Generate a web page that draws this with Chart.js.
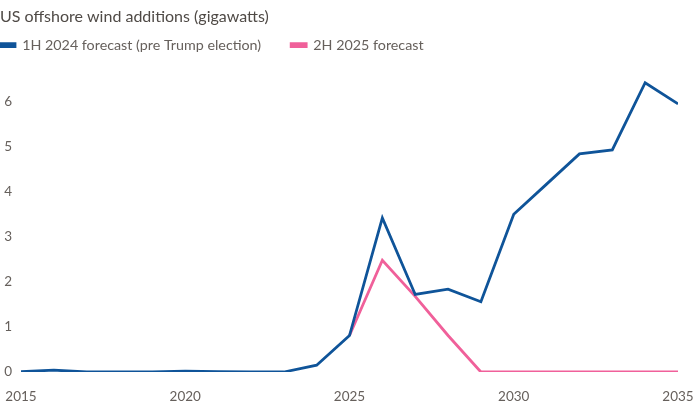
<!DOCTYPE html>
<html>
<head>
<meta charset="utf-8">
<script src="https://cdn.jsdelivr.net/npm/chart.js@4"></script>
<style>
  html, body { margin: 0; padding: 0; background: #ffffff; }
  #wrap { position: relative; width: 699px; height: 410px; }
</style>
</head>
<body>
<div id="wrap"><canvas id="c" width="699" height="410"></canvas></div>
<script>
const titleText = 'US offshore wind additions (gigawatts)';
const years = [2015, 2016, 2017, 2018, 2019, 2020, 2021, 2022, 2023, 2024, 2025, 2026, 2027, 2028, 2029, 2030, 2031, 2032, 2033, 2034, 2035];
const preElection = [0.01, 0.04, 0, 0, 0, 0.02, 0.01, 0, 0, 0.15, 0.81, 3.42, 1.72, 1.84, 1.56, 3.50, 4.17, 4.84, 4.93, 6.42, 5.95];
const forecast2025 = [null, null, null, null, null, null, null, null, null, null, 0.81, 2.48, 1.68, 0.81, 0, 0, 0, 0, 0, 0, 0];
const seriesNames = ['1H 2024 forecast (pre Trump election)', '2H 2025 forecast'];
const xTicks = [2015, 2020, 2025, 2030, 2035];
const yTicks = [0, 1, 2, 3, 4, 5, 6];

const BLUE = '#0f5499';
const PINK = '#f0609a';
const TEXT = '#66605c';
const FONT = 'Lato';

const toPoints = (vals) => years.map((y, i) => ({ x: y, y: vals[i] }));

const legendShift = {
  id: 'legendShift',
  afterLayout(chart) {
    const lg = chart.legend;
    if (!lg) return;
    const pad = lg.options.labels.padding;
    lg.left = -pad;
    lg.top = 38 - pad;
  }
};

new Chart(document.getElementById('c'), {
  type: 'line',
  data: {
    datasets: [
      { label: seriesNames[0], data: toPoints(preElection), borderColor: BLUE, backgroundColor: BLUE, borderWidth: 2.8, pointRadius: 0, tension: 0, order: 1 },
      { label: seriesNames[1], data: toPoints(forecast2025), borderColor: PINK, backgroundColor: PINK, borderWidth: 2.8, pointRadius: 0, tension: 0, order: 2 }
    ]
  },
  plugins: [legendShift],
  options: {
    responsive: false,
    animation: false,
    layout: { padding: { left: 0, right: 21, top: 0, bottom: 0 } },
    plugins: {
      tooltip: { enabled: false },
      title: {
        display: true, text: titleText, align: 'start', color: '#4f4a46',
        font: { family: FONT, size: 16, weight: 'normal' },
        padding: { top: 7, bottom: 0 }
      },
      legend: {
        display: true, align: 'start', maxHeight: 34,
        labels: {
          color: TEXT, boxWidth: 15, boxHeight: 3, padding: 30,
          font: { family: FONT, size: 14.3 }
        }
      }
    },
    scales: {
      x: {
        type: 'linear', min: 2015, max: 2035,
        grid: { display: false, drawTicks: false }, border: { display: false },
        afterBuildTicks: (s) => { s.ticks = xTicks.map(v => ({ value: v })); },
        ticks: { color: TEXT, font: { family: FONT, size: 13.5 }, padding: 17, maxRotation: 0, callback: (v) => String(v) },
        afterFit: (s) => { s.height = 38; s.paddingLeft = 0; s.paddingRight = 0; }
      },
      y: {
        min: 0, max: 6.92,
        grid: { display: false, drawTicks: false }, border: { display: false },
        afterBuildTicks: (s) => { s.ticks = yTicks.map(v => ({ value: v })); },
        ticks: { color: TEXT, font: { family: FONT, size: 13.5 }, padding: 9 },
        afterFit: (s) => { s.width = 21; }
      }
    }
  }
});
</script>
</body>
</html>
